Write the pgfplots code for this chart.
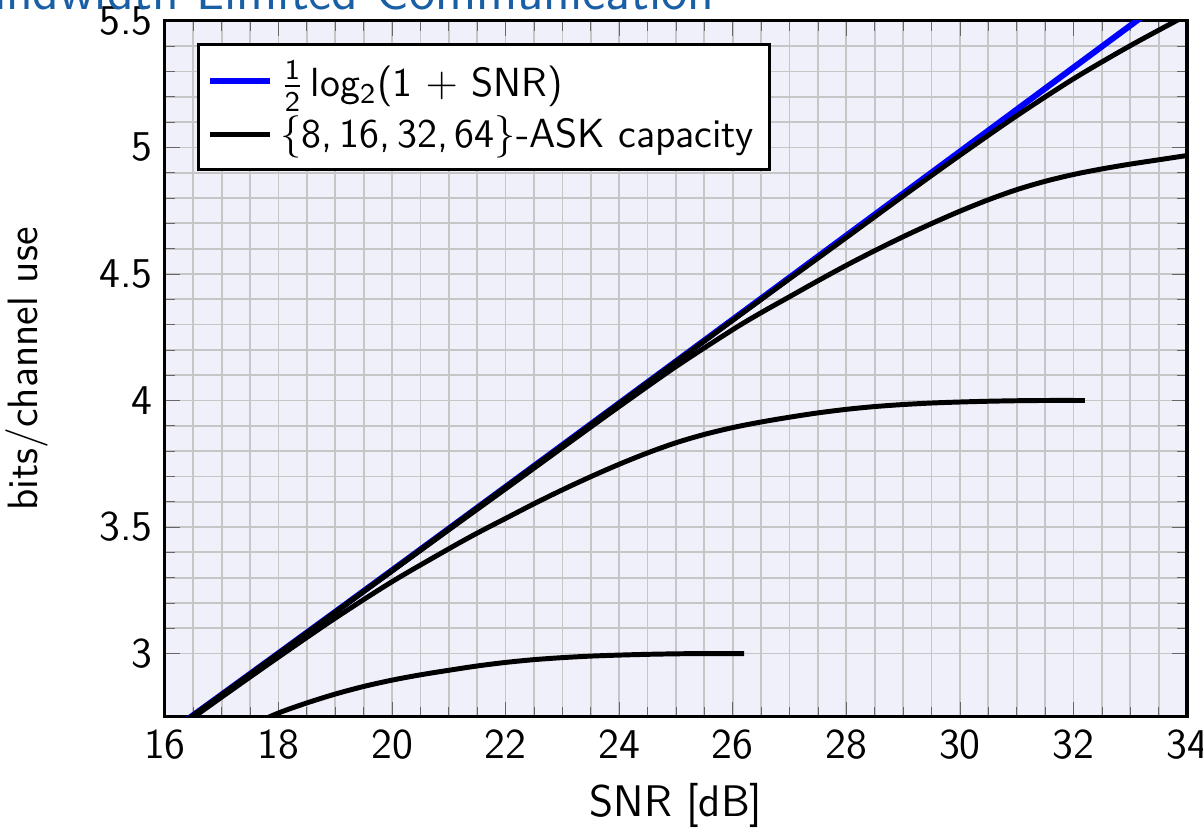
\documentclass[border=0pt]{standalone}
\usepackage{amsmath}
\usepackage{pgfplots}
\pgfplotsset{compat=1.18}
\renewcommand{\familydefault}{\sfdefault}
\definecolor{bgc}{RGB}{240,240,250}
\definecolor{titleblue}{RGB}{25,95,165}
\begin{document}
\begin{tikzpicture}
\begin{axis}[
  scale only axis,
  width=288.9pt, height=196.7pt,
  xmin=16, xmax=34, ymin=2.75, ymax=5.5,
  xtick={16,18,...,34}, ytick={3,3.5,4,4.5,5,5.5},
  minor x tick num=3, minor y tick num=4,
  grid=both,
  major grid style={draw=gray!45, line width=0.5pt},
  minor grid style={draw=gray!45, line width=0.5pt},
  tick style={draw=gray!80!black},
  axis background/.style={fill=bgc},
  axis line style={line width=0.9pt},
  font=\fontsize{12}{15}\selectfont,
  tick label style={font=\fontsize{12}{15}\selectfont},
  /pgf/number format/assume math mode=true,
  xlabel={SNR [dB]}, ylabel={bits/channel use},
  xlabel style={at={(axis description cs:0.5,-0.128)}, anchor=center, font=\fontsize{12.5}{15}\selectfont},
  ylabel style={at={(axis description cs:-0.135,0.5)}, anchor=center, font=\fontsize{12}{15}\selectfont},
  legend style={at={(0.031,0.968)}, anchor=north west, draw=black, line width=0.9pt,
    font=\fontsize{11.5}{13}\selectfont, inner sep=2.5pt, row sep=0pt},
  legend cell align=left,
]
\addplot[blue, line width=1.7pt] coordinates {
(16,2.6754) (17,2.8379) (18,3.0011) (19,3.1648) (20,3.3291) (21,3.4937) (22,3.6586)
(23,3.8238) (24,3.9892) (25,4.1547) (26,4.3203) (27,4.4860) (28,4.6518) (29,4.8177)
(30,4.9836) (31,5.1496) (32,5.3156) (33,5.4816) (34,5.6476)};
\addlegendentry{$\frac{\text{1}}{\text{2}}$\,log$_{\text{2}}$(1 $+$ SNR)}
% 64-ASK
\addplot[black, line width=1.4pt, smooth] coordinates {
(16,2.674) (17,2.837) (18,3.000) (19,3.164) (20,3.328) (21,3.493) (22,3.658)
(23,3.822) (24,3.988) (25,4.153) (26,4.317) (27,4.481) (28,4.644) (29,4.808)
(30,4.969) (31,5.125) (32,5.271) (33,5.402) (34,5.523)};
\addlegendentry{$\{$8,\,16,\,32,\,64$\}$-ASK capacity}
% 32-ASK
\addplot[black, line width=1.4pt, smooth, forget plot] coordinates {
(16,2.674) (17,2.837) (18,3.000) (19,3.163) (20,3.326) (21,3.489) (22,3.651)
(23,3.814) (24,3.976) (25,4.134) (26,4.280) (26.5,4.347) (27,4.410) (27.5,4.473)
(28,4.534) (28.5,4.592) (29,4.647) (29.5,4.699) (30,4.748) (30.5,4.793) (31,4.833)
(31.5,4.866) (32,4.893) (32.5,4.915) (33,4.934) (33.5,4.951) (34,4.968)};
% 16-ASK
\addplot[black, line width=1.4pt, smooth, forget plot] coordinates {
(16,2.667) (17,2.828) (18,2.986) (19,3.140) (20,3.284) (21,3.414) (21.5,3.476)
(22,3.534) (22.5,3.592) (23,3.647) (23.5,3.699) (24,3.748) (24.5,3.793) (25,3.833)
(25.5,3.866) (26,3.893) (26.5,3.915) (27,3.934) (27.5,3.951) (28,3.965) (28.5,3.976)
(29,3.984) (29.5,3.990) (30,3.994) (30.5,3.997) (31,3.999) (31.5,4.000) (32.2,4.000)};
% 8-ASK
\addplot[black, line width=1.4pt, smooth, forget plot] coordinates {
(17,2.660) (17.5,2.715) (18,2.765) (18.5,2.805) (19,2.840) (19.5,2.870) (20,2.895)
(20.5,2.916) (21,2.934) (21.5,2.951) (22,2.965) (22.5,2.976) (23,2.984) (23.5,2.990)
(24,2.994) (24.5,2.997) (25,2.999) (25.5,3.000) (26.2,3.000)};
\end{axis}
\node[anchor=base east, inner sep=0pt, text=titleblue, font=\fontsize{15}{18}\selectfont]
  at ([shift={(155.5pt,3.3pt)}]current axis.north west) {Bandwidth-Limited Communication};
\pgfresetboundingbox
\path[use as bounding box] ([shift={(-46.6pt,-32.5pt)}]current axis.south west)
  rectangle ([shift={(4.5pt,5.9pt)}]current axis.north east);
\end{tikzpicture}
\end{document}
